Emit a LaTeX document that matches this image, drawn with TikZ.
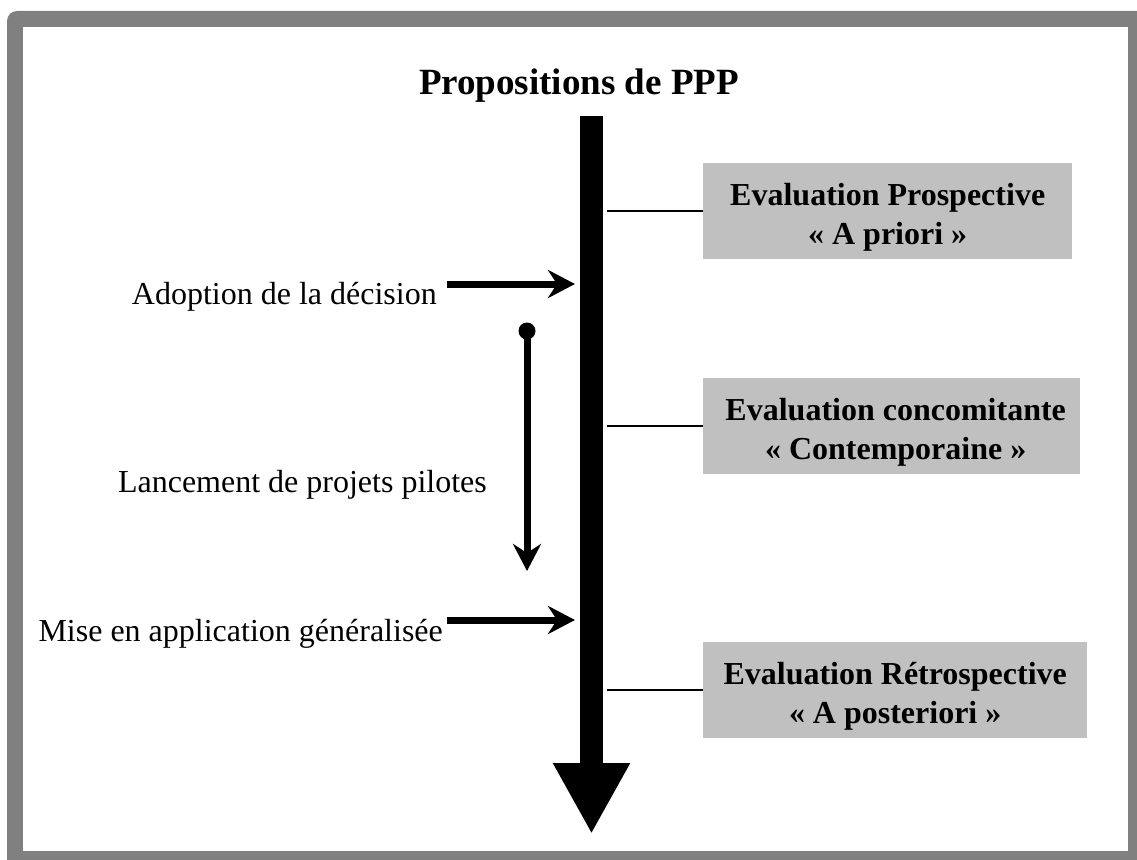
\documentclass[tikz,border=0pt]{standalone}
\usepackage{fontspec}
\setmainfont{Liberation Serif}
\usetikzlibrary{arrows.meta}
\definecolor{framegray}{HTML}{808080}
\definecolor{boxgray}{HTML}{C0C0C0}
\begin{document}
\begin{tikzpicture}[x=1pt,y=-1pt,
  evalbox/.style={fill=boxgray, draw=none, anchor=west, minimum width=#1, minimum height=96pt, inner sep=0pt},
  evaltext/.style={align=center, inner sep=0pt, font=\fontsize{32}{39}\selectfont\bfseries},
  lbl/.style={inner sep=0pt, font=\fontsize{32}{37}\selectfont},
  tick/.style={line width=1.8pt},
  sidearrow/.style={line width=7pt, -{Stealth[length=27pt, width=28pt, inset=9pt]}},
  mainarrow/.style={line width=23pt, -{Triangle[length=71pt, width=72pt]}}]
\useasboundingbox (0,0) rectangle (1137,859);
% frame
\fill[framegray, rounded corners=10pt] (7,11) rectangle (1160,880);
\fill[white] (23,27) rectangle (1128,851);
% title
\node[lbl, anchor=base, font=\fontsize{37}{44}\selectfont\bfseries] (title) at (579,94) {Propositions de PPP};
% main axis
\coordinate (top) at (591.5,116);
\coordinate (tip) at (591.5,834);
\draw[mainarrow] (top) -- (tip);
% evaluation boxes
\node[evalbox=369pt] (b1) at (703,211) {};
\node[evalbox=377pt] (b2) at (703,426) {};
\node[evalbox=384pt] (b3) at (703,690) {};
\node[evaltext] (b1t) at ([yshift=-6pt]b1.center) {Evaluation Prospective\\ « A priori »};
\node[evaltext] (b2t) at ([yshift=-6pt,xshift=4pt]b2.center) {Evaluation concomitante\\ « Contemporaine »};
\node[evaltext] (b3t) at ([yshift=-6pt]b3.center) {Evaluation Rétrospective\\ « A posteriori »};
\coordinate (t1) at (607,211);
\coordinate (t2) at (607,426);
\coordinate (t3) at (607,690);
\draw[tick] (t1) -- (b1.west);
\draw[tick] (t2) -- (b2.west);
\draw[tick] (t3) -- (b3.west);
% left labels
\node[lbl, anchor=base east] (adopt) at (437,304) {Adoption de la décision};
\node[lbl, anchor=base east] (lance) at (487,492) {Lancement de projets pilotes};
\node[lbl, anchor=base east] (mise) at (443,641) {Mise en application généralisée};
\coordinate (a1s) at (447,284);
\coordinate (a1e) at (575,284);
\coordinate (a2s) at (447,620);
\coordinate (a2e) at (575,620);
\draw[sidearrow] (a1s) -- (a1e);
\draw[sidearrow] (a2s) -- (a2e);
% pilot projects arrow
\node[circle, fill=black, minimum size=17pt, inner sep=0pt] (dot) at (527,331) {};
\coordinate (pend) at (527,571);
\draw[sidearrow] (dot.center) -- (pend);
\end{tikzpicture}
\end{document}
